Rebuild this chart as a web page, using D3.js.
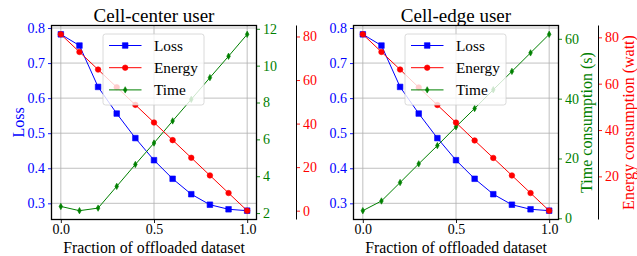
<!DOCTYPE html>
<html><head><meta charset="utf-8">
<script src="https://cdn.jsdelivr.net/npm/d3@7"></script>
<style>
body{margin:0;background:#fff}
svg{display:block}
text{font-family:"Liberation Serif","Times New Roman",serif}
</style>
</head><body>
<svg id="c" width="637" height="256"></svg>
<script>
// ---- data ----
const fractions = [0, 0.1, 0.2, 0.3, 0.4, 0.5, 0.6, 0.7, 0.8, 0.9, 1.0];
const titles = ["Cell-center user", "Cell-edge user"];
const seriesNames = ["Loss", "Energy", "Time"];

const lossCenter = [0.782, 0.750, 0.632, 0.556, 0.486, 0.423, 0.370, 0.326, 0.296, 0.283, 0.279];
const timeCenter = [2.36, 2.13, 2.27, 3.45, 4.64, 5.80, 7.00, 8.17, 9.35, 10.51, 11.70];
const energyCenter = [81.0, 72.9, 64.8, 56.7, 48.6, 40.5, 32.4, 24.3, 16.2, 8.1, 0.0];

const lossEdge = [0.782, 0.750, 0.632, 0.556, 0.486, 0.423, 0.370, 0.326, 0.296, 0.283, 0.279];
const timeEdge = [2.55, 5.79, 11.96, 18.2, 24.3, 30.6, 36.7, 42.98, 49.1, 55.3, 61.5];
const energyEdge = [81.3, 73.7, 66.1, 58.4, 50.8, 43.2, 35.5, 27.95, 20.4, 12.8, 5.2];

const xTicks = [0, 0.5, 1.0];
const lossTicks = [0.3, 0.4, 0.5, 0.6, 0.7, 0.8];
const timeTicksCenter = [2, 4, 6, 8, 10, 12];
const energyTicksCenter = [0, 20, 40, 60, 80];
const timeTicksEdge = [0, 20, 40, 60];
const energyTicksEdge = [20, 40, 60, 80];

const xLabel = "Fraction of offloaded dataset";
const lossLabel = "Loss";
const timeLabel = "Time consumption (s)";
const energyLabel = "Energy consumption (watt)";

// ---- styles ----
const FONT = "Liberation Serif";
const C = {loss: "#0000ff", energy: "#ff0000", time: "#008000"};
const svg = d3.select("#c");
const yTop = 25.5, yBot = 219.5;

function pad(vals) {
  const [lo, hi] = d3.extent(vals);
  const m = (hi - lo) * 0.05;
  return [lo - m, hi + m];
}

function styleAxis(g, color, tickColor) {
  g.attr("font-family", FONT);
  g.select(".domain").remove();
  g.selectAll(".tick line").attr("stroke", tickColor).attr("stroke-width", 0.9);
  g.selectAll(".tick text").attr("fill", color).attr("font-size", 14).attr("font-family", FONT);
}

function markerPath(type) {
  if (type === "square") return "M-2.8,-2.8H2.8V2.8H-2.8Z";
  if (type === "circle") return d3.symbol(d3.symbolCircle, 24)();
  return "M0,-3.2L1.8,0L0,3.2L-1.8,0Z";
}

function drawSeries(g, x, y, vals, color, type) {
  const line = d3.line().x((d, i) => x(fractions[i])).y(d => y(d));
  g.append("path").datum(vals).attr("d", line).attr("fill", "none")
    .attr("stroke", color).attr("stroke-width", 1);
  g.selectAll(null).data(vals).enter().append("path")
    .attr("transform", (d, i) => `translate(${x(fractions[i])},${y(d)})`)
    .attr("d", markerPath(type)).attr("fill", color).attr("stroke", color).attr("stroke-width", 0.6);
}

function addText(g, attrs, txt) {
  const t = g.append("text").attr("font-family", FONT);
  Object.entries(attrs).forEach(([k, v]) => t.attr(k, v));
  t.text(txt);
  return t;
}

function panel(p) {
  const L = p.left, R = p.left + 205;
  const g = svg.append("g");
  const x = d3.scaleLinear().domain([-0.05, 1.05]).range([L, R]);
  const yL = d3.scaleLinear().domain(pad(p.loss)).range([yBot, yTop]);
  const yT = d3.scaleLinear().domain(pad(p.time)).range([yBot, yTop]);
  const yE = d3.scaleLinear().domain(pad(p.energy)).range([yBot, yTop]);

  // grid
  const grid = g.append("g").attr("stroke", "#b0b0b0").attr("stroke-width", 0.8);
  xTicks.forEach(t => grid.append("line").attr("x1", x(t)).attr("x2", x(t)).attr("y1", yTop).attr("y2", yBot));
  lossTicks.forEach(t => grid.append("line").attr("x1", L).attr("x2", R).attr("y1", yL(t)).attr("y2", yL(t)));

  // series
  drawSeries(g, x, yL, p.loss, C.loss, "square");
  drawSeries(g, x, yT, p.time, C.time, "diamond");
  drawSeries(g, x, yE, p.energy, C.energy, "circle");

  // legend
  const lg = g.append("g");
  const lx = L + 51.5, ly = 34;
  lg.append("rect").attr("x", lx).attr("y", ly).attr("width", 101).attr("height", 71)
    .attr("rx", 2.5).attr("fill", "#fff").attr("fill-opacity", 0.8)
    .attr("stroke", "#cccccc").attr("stroke-opacity", 0.8).attr("stroke-width", 0.9);
  const legItems = [
    {name: seriesNames[0], color: C.loss, type: "square"},
    {name: seriesNames[1], color: C.energy, type: "circle"},
    {name: seriesNames[2], color: C.time, type: "diamond"}
  ];
  legItems.forEach((it, i) => {
    const yy = ly + 11.5 + i * 22.2;
    lg.append("line").attr("x1", lx + 6).attr("x2", lx + 38.5).attr("y1", yy).attr("y2", yy)
      .attr("stroke", it.color).attr("stroke-width", 1);
    lg.append("path").attr("transform", `translate(${lx + 22.2},${yy})`).attr("d", markerPath(it.type))
      .attr("fill", it.color).attr("stroke", it.color).attr("stroke-width", 0.6);
    addText(lg, {x: lx + 51, y: yy + 5, "font-size": 15.3, fill: "#000"}, it.name);
  });

  // axes
  const ax = g.append("g").attr("transform", `translate(0,${yBot})`)
    .call(d3.axisBottom(x).tickValues(xTicks).tickFormat(d3.format(".1f")).tickSize(3.5).tickPadding(1.5));
  styleAxis(ax, "#000", "#000");
  const al = g.append("g").attr("transform", `translate(${L},0)`)
    .call(d3.axisLeft(yL).tickValues(lossTicks).tickFormat(d3.format(".1f")).tickSize(3.5).tickPadding(3));
  styleAxis(al, C.loss, C.loss);
  const ar = g.append("g").attr("transform", `translate(${R},0)`)
    .call(d3.axisRight(yT).tickValues(p.timeTicks).tickFormat(d3.format("d")).tickSize(3.5).tickPadding(3));
  styleAxis(ar, C.time, C.time);
  const eX = R + 40;
  const ae = g.append("g").attr("transform", `translate(${eX},0)`)
    .call(d3.axisRight(yE).tickValues(p.energyTicks).tickFormat(d3.format("d")).tickSize(3.5).tickPadding(3));
  styleAxis(ae, C.energy, C.energy);
  g.append("line").attr("x1", eX).attr("x2", eX).attr("y1", yTop).attr("y2", yBot)
    .attr("stroke", "#000").attr("stroke-width", 1);

  // frame
  g.append("rect").attr("x", L).attr("y", yTop).attr("width", R - L).attr("height", yBot - yTop)
    .attr("fill", "none").attr("stroke", "#000").attr("stroke-width", 1.3);

  // title & labels
  addText(g, {x: (L + R) / 2, y: 21.5, "text-anchor": "middle", "font-size": 19, fill: "#000"}, p.title);
  addText(g, {x: (L + R) / 2, y: 252.5, "text-anchor": "middle", "font-size": 15.8, fill: "#000"}, xLabel);
  if (p.lossLabel) {
    addText(g, {transform: `translate(${L - 28},${(yTop + yBot) / 2}) rotate(-90)`,
      "text-anchor": "middle", "font-size": 16, fill: C.loss}, lossLabel);
  }
  if (p.rightLabels) {
    addText(g, {transform: `translate(${R + 33.5},${(yTop + yBot) / 2}) rotate(-90)`,
      "text-anchor": "middle", "font-size": 16, fill: C.time}, timeLabel);
    addText(g, {transform: `translate(${eX + 35.5},${(yTop + yBot) / 2}) rotate(-90)`,
      "text-anchor": "middle", "font-size": 16, fill: C.energy}, energyLabel);
  }
}

panel({left: 51.5, title: titles[0], loss: lossCenter, time: timeCenter, energy: energyCenter,
       timeTicks: timeTicksCenter, energyTicks: energyTicksCenter, lossLabel: true, rightLabels: false});
panel({left: 353.5, title: titles[1], loss: lossEdge, time: timeEdge, energy: energyEdge,
       timeTicks: timeTicksEdge, energyTicks: energyTicksEdge, lossLabel: false, rightLabels: true});
</script>
</body></html>
